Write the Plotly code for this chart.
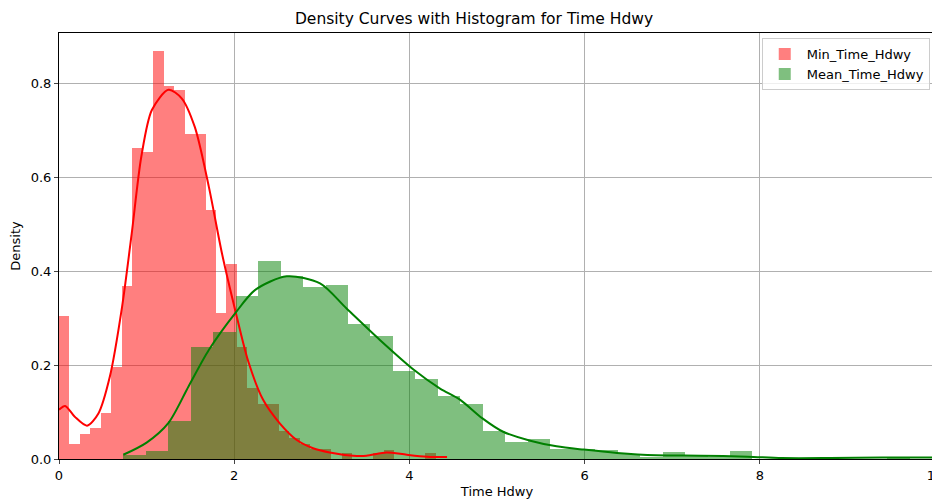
import plotly.graph_objects as go

# ---------------- data ----------------
red_bin_start = 0.0
red_bin_width = 0.1195
red_density = [0.305, 0.033, 0.053, 0.065, 0.097, 0.195, 0.369, 0.662, 0.653, 0.868,
               0.795, 0.785, 0.692, 0.692, 0.531, 0.311, 0.416, 0.239, 0.151, 0.117,
               0.117, 0.059, 0.045, 0.032, 0.022, 0.022, 0.0, 0.013, 0.0, 0.0,
               0.013, 0.020, 0.0, 0.0, 0.0, 0.013, 0.0]

green_bin_start = 0.734
green_bin_width = 0.2565
green_density = [0.009, 0.016, 0.081, 0.239, 0.270, 0.348, 0.422, 0.389, 0.366, 0.371,
                 0.288, 0.261, 0.188, 0.170, 0.134, 0.117, 0.060, 0.037, 0.042, 0.021,
                 0.021, 0.020, 0.010, 0.005, 0.014, 0.008, 0.005, 0.017, 0.0, 0.0,
                 0.0, 0.0, 0.0, 0.0, 0.002, 0.0, 0.0]

red_kde_x = [0.0, 0.07, 0.18, 0.32, 0.45, 0.58, 0.72, 0.83, 0.94, 1.06, 1.25, 1.40,
             1.55, 1.71, 1.86, 2.01, 2.16, 2.33, 2.52, 2.71, 2.90, 3.09, 3.36, 3.51,
             3.74, 3.97, 4.20, 4.43]
red_kde_y = [0.105, 0.113, 0.090, 0.071, 0.097, 0.175, 0.324, 0.480, 0.644, 0.743, 0.786, 0.768,
             0.707, 0.580, 0.438, 0.318, 0.208, 0.126, 0.076, 0.041, 0.023, 0.014, 0.007, 0.007,
             0.014, 0.009, 0.005, 0.004]

green_kde_x = [0.734, 1.00, 1.25, 1.48, 1.71, 2.01, 2.24, 2.60, 2.98, 3.28, 3.66, 4.05,
               4.35, 4.58, 4.83, 5.07, 5.38, 5.68, 5.99, 6.37, 6.82, 7.32, 7.86, 8.25,
               8.80, 9.40, 9.80, 10.0]
green_kde_y = [0.009, 0.035, 0.077, 0.155, 0.232, 0.310, 0.360, 0.389, 0.374, 0.321, 0.254, 0.190,
               0.150, 0.126, 0.087, 0.058, 0.039, 0.027, 0.020, 0.013, 0.008, 0.007, 0.005, 0.002,
               0.002, 0.003, 0.003, 0.003]

series_names = ["Min_Time_Hdwy", "Mean_Time_Hdwy"]
title_text = "Density Curves with Histogram for Time Hdwy"
x_label = "Time Hdwy"
y_label = "Density"
x_ticks = [0, 2, 4, 6, 8, 10]
y_ticks = [0.0, 0.2, 0.4, 0.6, 0.8]

# ---------------- figure ----------------
red_centers = [red_bin_start + red_bin_width * (i + 0.5) for i in range(len(red_density))]
green_centers = [green_bin_start + green_bin_width * (i + 0.5) for i in range(len(green_density))]

font = "DejaVu Sans, sans-serif"
fig = go.Figure()
fig.add_trace(go.Bar(x=red_centers, y=red_density, width=red_bin_width,
                     marker=dict(color="rgba(255,0,0,0.5)", line=dict(width=0)),
                     name=series_names[0]))
fig.add_trace(go.Bar(x=green_centers, y=green_density, width=green_bin_width,
                     marker=dict(color="rgba(0,128,0,0.5)", line=dict(width=0)),
                     name=series_names[1]))
fig.add_trace(go.Scatter(x=red_kde_x, y=red_kde_y, mode="lines",
                         line=dict(color="red", width=2, shape="spline", smoothing=0.8),
                         showlegend=False, hoverinfo="skip"))
fig.add_trace(go.Scatter(x=green_kde_x, y=green_kde_y, mode="lines",
                         line=dict(color="green", width=2, shape="spline", smoothing=0.8),
                         showlegend=False, hoverinfo="skip"))

# page body adds an ~8px offset, so the figure is sized to fill the rest of the window
fig.update_layout(
    width=932, height=491,
    margin=dict(l=51, r=5, t=25, b=40, autoexpand=False),
    paper_bgcolor="white", plot_bgcolor="white",
    barmode="overlay", bargap=0,
    font=dict(family=font, size=13, color="black"),
    title=dict(text=title_text, x=0.5, xanchor="center", y=0.979, yanchor="middle",
               automargin=False, font=dict(family=font, size=15.5, color="black")),
    legend=dict(x=0.994, y=0.988, xanchor="right", yanchor="top",
                bgcolor="rgba(255,255,255,0.8)", bordercolor="#cccccc", borderwidth=1,
                font=dict(family=font, size=13), traceorder="normal", itemwidth=34,
                tracegroupgap=0),
    xaxis=dict(range=[0, 10], tickvals=x_ticks, ticks="outside", ticklen=4,
               showline=True, linecolor="black", linewidth=1, mirror=True,
               showgrid=True, gridcolor="#b0b0b0", gridwidth=1, zeroline=False,
               automargin=False, ticklabeloverflow="allow",
               tickfont=dict(family=font, size=13),
               title=dict(text=x_label, standoff=5, font=dict(family=font, size=13))),
    yaxis=dict(range=[0, 0.907], tickvals=y_ticks, tickformat=".1f", ticks="outside", ticklen=4,
               showline=True, linecolor="black", linewidth=1, mirror=True,
               showgrid=True, gridcolor="#b0b0b0", gridwidth=1, zeroline=False,
               automargin=False, tickfont=dict(family=font, size=13),
               title=dict(text=y_label, standoff=14, font=dict(family=font, size=13))),
)

fig.write_html("out.html")
